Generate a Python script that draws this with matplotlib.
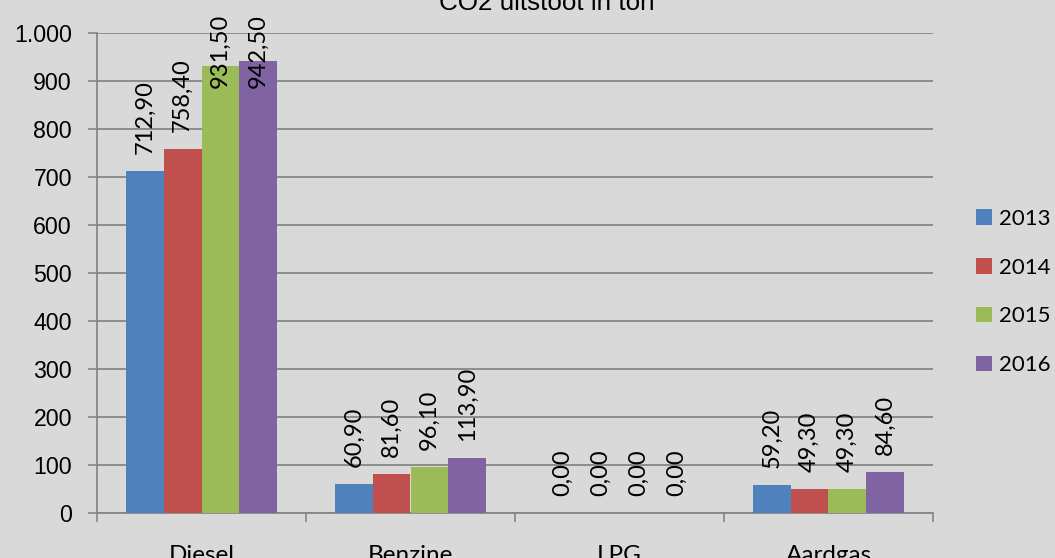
import numpy as np
from matplotlib import pyplot as plt
from matplotlib.patches import Patch

categories = ['Diesel', 'Benzine', 'LPG', 'Aardgas']
years = ['2013', '2014', '2015', '2016']
values = {
    '2013': [712.9, 60.9, 0.0, 59.2],
    '2014': [758.4, 81.6, 0.0, 49.3],
    '2015': [931.5, 96.1, 0.0, 49.3],
    '2016': [942.5, 113.9, 0.0, 84.6],
}
colors = ['#4F81BD', '#C0504D', '#9BBB59', '#8064A2']
yticks = [0, 100, 200, 300, 400, 500, 600, 700, 800, 900, 1000]
ytick_labels = ['0', '100', '200', '300', '400', '500', '600', '700', '800', '900', '1.000']

W, H = 1055, 558
bg = '#D9D9D9'
grid = '#868686'


def fmt(v):
    return '{:.2f}'.format(v).replace('.', ',')


def main():
    fig = plt.figure(figsize=(W / 100, H / 100), dpi=100, facecolor=bg)
    ax = fig.add_axes([97 / W, 1 - 513 / H, (933 - 97) / W, (513 - 33) / H])
    ax.set_facecolor(bg)

    x = np.arange(len(categories))
    bw = 0.181
    texts = []
    for i, year in enumerate(years):
        pos = x - 1.5 * bw + i * bw
        ax.bar(pos, values[year], width=bw, color=colors[i], edgecolor='none', zorder=3, label=year)
        for px, v in zip(pos, values[year]):
            t = ax.annotate(fmt(v), (px, v), xytext=(0, 17), textcoords='offset pixels',
                            rotation=90, ha='center', va='bottom', fontsize=17,
                            family='Lato', color='black', zorder=5, annotation_clip=False)
            texts.append(t)

    ax.set_xlim(-0.5, len(categories) - 0.5)
    ax.set_ylim(0, 1000)
    ax.set_yticks(yticks)
    ax.set_yticklabels(ytick_labels, family='Liberation Sans', fontsize=16.7)
    ax.set_xticks(x)
    ax.set_xticklabels(categories, family='Lato', fontsize=17.5)
    ax.set_xticks(np.arange(len(categories) + 1) - 0.5, minor=True)
    ax.tick_params(axis='x', which='major', length=0, pad=23)
    ax.tick_params(axis='x', which='minor', length=6.5, width=1.2, color=grid)
    ax.tick_params(axis='y', length=6.5, width=1.2, color=grid, pad=11.5)
    ax.yaxis.grid(True, color=grid, linewidth=1.3, zorder=0)
    for s in ['top', 'right']:
        ax.spines[s].set_visible(False)
    for s in ['left', 'bottom']:
        ax.spines[s].set_color(grid)
        ax.spines[s].set_linewidth(1.3)

    # keep labels inside the picture, like the original
    fig.canvas.draw()
    r = fig.canvas.get_renderer()
    for t in texts:
        bb = t.get_window_extent(r)
        top_px = H - bb.y1
        if top_px < 14:
            t.xyann = (0, t.xyann[1] - (14 - top_px))

    fig.text(547 / W, 1 - 10 / H, 'CO2 uitstoot in ton', ha='center', va='baseline',
             family='Liberation Sans', fontsize=18.7)

    handles = [Patch(facecolor=c, edgecolor='none') for c in colors]
    fig.legend(handles, years, loc='center left', bbox_to_anchor=(976 / W, 1 - 292 / H),
               frameon=False, prop={'family': 'Lato', 'size': 16},
               handlelength=0.7, handleheight=0.7, handletextpad=0.35, labelspacing=1.3,
               borderaxespad=0, borderpad=0)

    plt.savefig('out.png', dpi=100, facecolor=bg)


if __name__ == '__main__':
    main()
